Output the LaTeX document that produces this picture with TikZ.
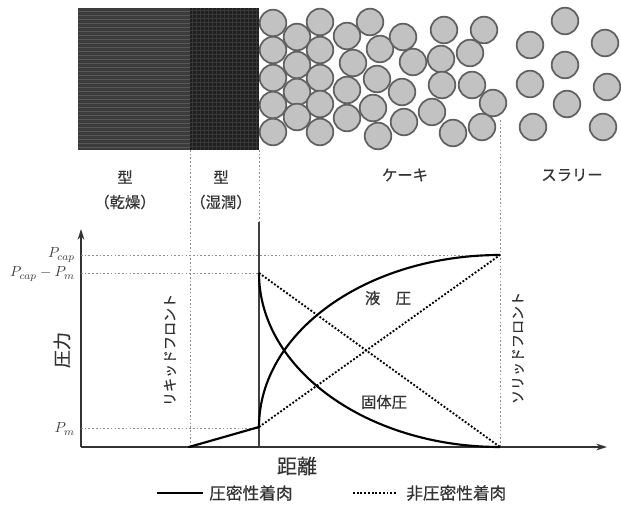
\documentclass[tikz,border=0pt]{standalone}
\usepackage{fontspec}
\newfontfamily\jp{Noto Sans CJK JP}[FakeBold=0.5]
\usetikzlibrary{arrows.meta}
\begin{document}
\begin{tikzpicture}[x=0.75pt,y=-0.75pt,
  lbl/.style={font=\jp\fontsize{11.5}{13}\selectfont, text=black!80, inner sep=0pt},
  leglbl/.style={font=\jp\fontsize{12.5}{14}\selectfont, text=black!80, inner sep=0pt, anchor=west},
  frontlbl/.style={font=\jp\fontsize{10.5}{12}\selectfont, text=black!80, inner sep=0pt, rotate=90},
  biglbl/.style={font=\jp\fontsize{13.5}{15}\selectfont, text=black!80, inner sep=0pt},
  plbl/.style={font=\fontsize{10.8}{12}\selectfont, text=black!75, inner sep=0pt, anchor=east},
  guide/.style={black!45, line width=0.6pt, dash pattern=on 1.2pt off 1.6pt},
  axis/.style={black!80, line width=1.1pt, -{Stealth[length=8pt,width=5pt]}},
  packed/.style={black, line width=1.6pt},
  loose/.style={black, line width=1.4pt, dash pattern=on 1.4pt off 1.4pt},
  grain/.style={fill=black!24, draw=black!62, line width=1.3pt}
]
\useasboundingbox[fill=white] (0,0) rectangle (621,509);

% ---- mould: dry part (striped) and wet part (meshed) ----
\fill[black!77] (78,8) rectangle (190,150);
\foreach \yy in {11,15,...,148} \draw[black!66, line width=0.5pt] (78,\yy) -- (190,\yy);
\fill[black!88] (190,8) rectangle (259,150);
\foreach \yy in {10,14,...,148} \draw[black!78, line width=0.4pt] (190,\yy) -- (259,\yy);
\foreach \xx in {192,196,...,258} \draw[black!78, line width=0.4pt] (\xx,8) -- (\xx,150);

% ---- particles: cake ----
\foreach \cx/\cy in {
  273/23, 273/50, 273/78, 273/105, 273/132,
  297/37, 297/65, 297/92, 297/117,
  320/22, 320/50, 320/78, 320/104, 320/132,
  347/36, 353/63, 347/90, 347/118,
  370/22, 380/49, 377/79, 373/108, 378/136,
  403/37, 413/62, 402/92, 404/122,
  444/30, 484/30, 441/59, 470/53, 442/85, 472/85, 493/103,
  432/112, 453/133, 482/127}
  \filldraw[grain] (\cx,\cy) circle[radius=13.3];
% ---- particles: slurry ----
\foreach \cx/\cy in {
  565/21, 530/45, 605/43, 565/65, 530/84, 607/87, 567/104, 533/127, 603/127}
  \filldraw[grain] (\cx,\cy) circle[radius=13.3];

% ---- region boundaries ----
\coordinate (dryB) at (190,150);
\coordinate (dryE) at (190,447);
\coordinate (wetB) at (259,150);
\coordinate (wetM) at (259,222);
\coordinate (wetE) at (259,447);
\coordinate (sfB) at (500,120);
\coordinate (sfE) at (500,447);
\draw[guide] (dryB) -- (dryE);
\draw[guide] (wetB) -- (wetM);
\draw[black!75, line width=0.8pt] (wetM) -- (wetE);
\draw[guide] (sfB) -- (sfE);

% ---- region labels ----
\node[lbl] (m1) at (125,177) {型};
\node[lbl] (m1s) at (125,202) {（乾燥）};
\node[lbl] (m2) at (221,177) {型};
\node[lbl] (m2s) at (221,202) {（湿潤）};
\node[lbl] (cake) at (405,175) {ケーキ};
\node[lbl] (slurry) at (572,175) {スラリー};

% ---- axes ----
\coordinate (O) at (81,447);
\coordinate (Ytip) at (81,229);
\coordinate (Xtip) at (607,447);
\draw[axis] (O) -- (Ytip);
\draw[axis] (O) -- (Xtip);
\node[biglbl, rotate=90] (ylab) at (62,350) {圧力};
\node[biglbl, font=\jp\fontsize{15}{17}\selectfont] (xlab) at (297,466) {距離};

% ---- pressure levels ----
\coordinate (Pcap0) at (81,255);
\coordinate (Pcap1) at (500,255);
\coordinate (Pd0) at (81,273);
\coordinate (Pd1) at (259,273);
\coordinate (Pm0) at (81,428);
\coordinate (Pm1) at (259,428);
\draw[guide] (Pcap0) -- (Pcap1);
\draw[guide] (Pd0) -- (Pd1);
\draw[guide] (Pm0) -- (Pm1);
\node[plbl] (lcap) at (75,255) {$P_{cap}$};
\node[plbl] (ldiff) at (75,274) {$P_{cap}-P_{m}$};
\node[plbl] (lm) at (75,429) {$P_{m}$};

% ---- fronts ----
\node[frontlbl] (lf) at (170,350) {リキッドフロント};
\node[frontlbl] (sf) at (518,348) {ソリッドフロント};

% ---- pressure profiles ----
\coordinate (g0) at (189,447);
\coordinate (g1) at (259,427);
\coordinate (s0) at (259,273);
\coordinate (s1) at (500,447);
\coordinate (q0) at (259,427);
\coordinate (q1) at (500,255);
\draw[packed, line cap=round] (g0) -- (g1);
% liquid pressure (packed cake)
\draw[packed] (q0) .. controls (259,332) and (367,255) .. (q1);
% solid pressure (packed cake)
\draw[packed] (s0) .. controls (259,369) and (367,447) .. (s1);
% linear profiles (loose cake)
\draw[loose] (s0) -- (s1);
\draw[loose] (q0) -- (q1);

\node[lbl] (liq) at (388,298) {液　圧};
\node[lbl] (sol) at (384,402) {固体圧};

% ---- legend ----
\coordinate (k1a) at (157,493);
\coordinate (k1b) at (203,493);
\coordinate (k2a) at (353,493);
\coordinate (k2b) at (397,493);
\draw[packed, line width=1.9pt] (k1a) -- (k1b);
\node[leglbl] (leg1) at (209,493) {圧密性着肉};
\draw[loose, line width=1.6pt] (k2a) -- (k2b);
\node[leglbl] (leg2) at (406,493) {非圧密性着肉};
\end{tikzpicture}
\end{document}
